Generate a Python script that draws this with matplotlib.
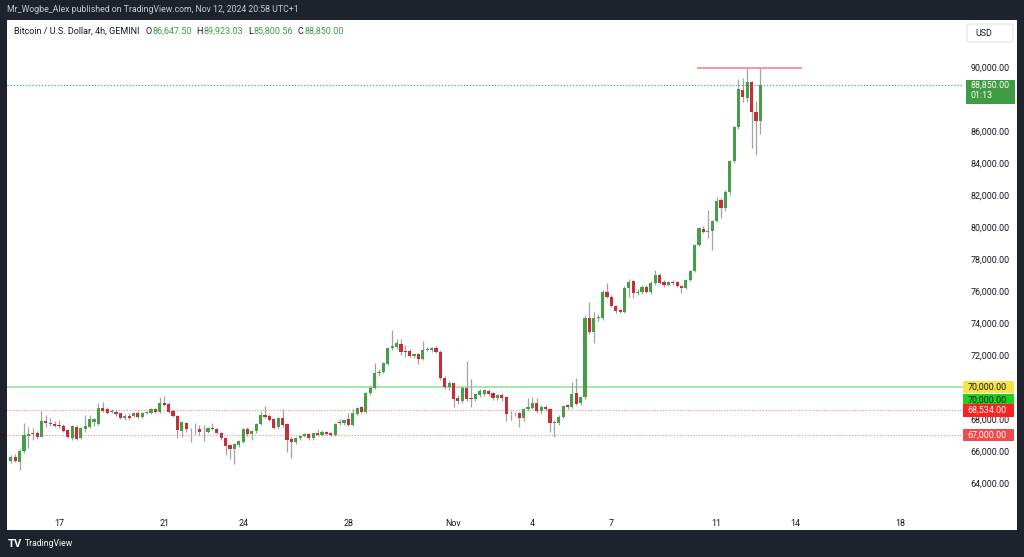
import numpy as np
import pandas as pd
import matplotlib
matplotlib.use("Agg")
import matplotlib.pyplot as plt
import matplotlib.dates as mdates
from matplotlib.patches import Rectangle, FancyBboxPatch

# ---------------- data (BTC/USD 4h, GEMINI) ----------------
first_candle = "2024-10-15 04:00"
opens = [65370, 65640, 65330, 66000, 66950, 67100, 67100, 66900, 67900, 67780,
         67700, 67640, 67580, 67310, 66790, 67520, 66790, 67360, 67520, 67800,
         67670, 68670, 68600, 68420, 68450, 68350, 68080, 68210, 68190, 68390,
         68140, 68390, 68360, 68620, 68450, 69020, 68920, 68500, 68210, 67270,
         67730, 67360, 67360, 67380, 67250, 67210, 67460, 67380, 67110, 66790,
         66380, 66110, 66380, 66580, 67360, 67040, 67250, 67670, 68250, 68190,
         67980, 67480, 68080, 67670, 66750, 66580, 66790, 66950, 67060, 66790,
         67110, 67000, 67190, 67120, 67000, 67790, 67730, 67980, 67630, 68310,
         68730, 68420, 69600, 69920, 70860, 70960, 71420, 72420, 72520, 72690,
         72250, 72250, 71940, 72040, 71750, 72310, 72310, 72420, 72210, 70540,
         69980, 70230, 69290, 69120, 69960, 69330, 69250, 69500, 69540, 69770,
         69600, 69330, 69500, 69360, 68350, 68350, 68350, 68040, 68620, 68710,
         69020, 68520, 68770, 68610, 67770, 67770, 68140, 68880, 68770, 69600,
         68980, 69360, 74330, 73420, 74290, 74290, 75960, 75650, 75080, 74810,
         74710, 76170, 76620, 75900, 75920, 76230, 75960, 76480, 77000, 76540,
         76370, 76540, 76540, 76310, 76210, 76690, 77250, 78860, 79860, 79710,
         79750, 80380, 81690, 81170, 82210, 84130, 86230, 88560, 88040, 89040,
         87210, 86647.5]
highs = [65750, 65800, 66100, 67750, 67520, 67450, 67250, 68520, 68270, 68050,
         67900, 67950, 67700, 67400, 67650, 67600, 67500, 68250, 68250, 68050,
         68980, 69080, 68750, 68600, 68550, 68400, 68300, 68350, 68450, 68500,
         68450, 68500, 68700, 68700, 69400, 69430, 69050, 68600, 68250, 67850,
         67800, 67450, 67780, 67620, 67650, 67500, 67780, 67450, 67200, 66850,
         66450, 66500, 66700, 67450, 67500, 67300, 67750, 68520, 68810, 68300,
         68050, 68150, 68600, 67750, 66900, 66900, 67000, 67100, 67100, 67150,
         67400, 67300, 67250, 67200, 67750, 68000, 68000, 68350, 68600, 68750,
         68800, 69700, 70050, 71480, 71100, 71550, 72500, 73560, 73000, 73000,
         72600, 72350, 72150, 72150, 72900, 72500, 72500, 72550, 72300, 70700,
         70350, 70300, 69500, 70050, 71620, 70480, 69650, 69850, 69900, 69850,
         69700, 69550, 69600, 69450, 68500, 68450, 68450, 68700, 69300, 69350,
         69300, 68850, 68850, 68700, 67950, 68250, 68900, 68950, 70290, 70540,
         69450, 74500, 75330, 74710, 74550, 76050, 76480, 75750, 75150, 74900,
         76300, 76730, 76700, 76100, 76350, 76400, 76600, 77310, 77150, 76700,
         76650, 76700, 76650, 76400, 76750, 77300, 78950, 80000, 80050, 81060,
         80450, 81900, 81800, 82300, 84200, 86300, 89250, 89330, 89920, 89150,
         87880, 89923.03]
lows = [65230, 65300, 64810, 65900, 66190, 66700, 66750, 66850, 67480, 67550,
        67500, 67450, 67200, 66800, 66700, 66700, 66720, 67200, 67450, 67550,
        67600, 68450, 68300, 68350, 68200, 68000, 67950, 67950, 68100, 68050,
        68080, 68300, 68300, 68380, 68400, 68800, 68350, 68100, 66830, 66890,
        67200, 66580, 67050, 66990, 66650, 67100, 67300, 67050, 66700, 65750,
        65480, 65190, 66250, 66500, 66950, 66700, 67150, 67600, 68050, 67900,
        67350, 67400, 67500, 65960, 65580, 66450, 66700, 66850, 66700, 66700,
        66950, 66950, 67000, 66950, 66950, 67650, 67650, 67550, 67550, 68250,
        68350, 68350, 69500, 69850, 70700, 70850, 71350, 72300, 72400, 72000,
        71900, 71850, 71800, 71420, 71700, 72250, 72200, 72100, 70450, 69900,
        69800, 68770, 68950, 69000, 69150, 68770, 69100, 69400, 69450, 69450,
        69200, 69200, 69100, 67900, 67940, 68200, 67520, 67900, 68500, 68650,
        68400, 68300, 68500, 67210, 66900, 67650, 68050, 68650, 68700, 68850,
        68900, 69250, 73300, 72730, 74150, 74200, 75550, 75000, 74650, 74600,
        74650, 75650, 75540, 75750, 75800, 75850, 75800, 76400, 76450, 76250,
        76300, 76400, 76250, 75900, 76150, 76600, 77200, 78800, 79600, 79290,
        78560, 80300, 80540, 81000, 82000, 84000, 86100, 87830, 87800, 84920,
        84500, 85800.56]
closes = [65640, 65370, 66000, 67000, 67050, 67060, 66900, 67900, 67770, 67690,
          67590, 67540, 67270, 66860, 67560, 66770, 67420, 67560, 67980, 68000,
          68700, 68520, 68390, 68520, 68290, 68080, 68210, 68080, 68390, 68140,
          68390, 68430, 68600, 68450, 69020, 68880, 68450, 68190, 67310, 67790,
          67360, 67380, 67400, 67210, 67230, 67460, 67380, 67110, 66790, 66330,
          66110, 66420, 66640, 67360, 67040, 67250, 67670, 68250, 68140, 67940,
          67460, 68040, 67620, 66690, 66580, 66790, 66950, 67060, 66790, 67110,
          67000, 67210, 67080, 67000, 67690, 67730, 67940, 67630, 68360, 68670,
          68420, 69600, 69960, 70890, 70960, 71480, 72420, 72560, 72730, 72210,
          72170, 71960, 72060, 71750, 72310, 72350, 72420, 72210, 70580, 70020,
          70230, 69230, 69120, 69960, 69250, 69230, 69540, 69750, 69790, 69560,
          69330, 69500, 69290, 68310, 68370, 68380, 68080, 68610, 68730, 68980,
          68520, 68770, 68610, 67770, 67830, 68140, 68810, 68770, 69540, 68940,
          69360, 74330, 73420, 74290, 74400, 75960, 75650, 75080, 74770, 74710,
          76170, 76580, 75900, 75960, 76230, 75960, 76520, 77000, 76520, 76350,
          76540, 76480, 76310, 76210, 76690, 77250, 78860, 79920, 79710, 79770,
          80380, 81630, 81170, 82210, 84130, 86230, 88620, 88100, 89040, 87210,
          86650, 88850.0]

tick_dates = ["2024-10-17", "2024-10-21", "2024-10-24", "2024-10-28", "2024-11-01",
              "2024-11-04", "2024-11-07", "2024-11-11", "2024-11-14", "2024-11-18"]
tick_labels = ["17", "21", "24", "28", "Nov", "4", "7", "11", "14", "18"]
price_ticks = list(range(64000, 90001, 2000))
hidden_price_ticks = [70000, 88000]   # covered by the price labels in the original

last_price = 88850.00
countdown = "01:13"
level_70k = 70000.00
level_a = 68534.00
level_b = 67000.00
top_line_price = 89923.03
top_line_span = ["2024-11-10 06:00", "2024-11-14 06:00"]

title_text = "Mr_Wogbe_Alex published on TradingView.com, Nov 12, 2024 20:58 UTC+1"
symbol_text = "Bitcoin / U.S. Dollar, 4h, GEMINI"
ohlc_labels = [("O", "86,647.50"), ("H", "89,923.03"), ("L", "85,800.56"), ("C", "88,850.00")]

# ---------------- style ----------------
plt.rcParams["font.family"] = ["Roboto", "DejaVu Sans"]
DARK = "#1e222d"
TXT = "#131722"
GREEN = "#43a047"
RED = "#c62f3a"
WICK = "#a3a3a3"

W, H = 1024, 557
fig = plt.figure(figsize=(W / 100, H / 100), dpi=100, facecolor=DARK)
rend = fig.canvas.get_renderer()

def fx(px):
    return px / W

def fy(py):
    return 1 - py / H

def fit_size(text, target_px, base=8.0, **kw):
    tt = fig.text(0, 0, text, fontsize=base, **kw)
    w = tt.get_window_extent(renderer=rend).width
    tt.remove()
    return base * target_px / w

LBL = fit_size("90,000.00", 39)

# white panel (behind the axes)
fig.patches.append(Rectangle((fx(7), fy(530)), fx(1010), 510 / H,
                             transform=fig.transFigure, facecolor="white",
                             edgecolor="none", zorder=-5))

ax = fig.add_axes([fx(7), fy(510), fx(956), (510 - 45) / H])
ax.set_facecolor("none")
for s in ax.spines.values():
    s.set_visible(False)

times = pd.date_range(first_candle, periods=len(opens), freq="4h")
t = mdates.date2num(times.to_pydatetime())
o = np.array(opens); h = np.array(highs); l = np.array(lows); c = np.array(closes)
up = c >= o
colors = np.where(up, GREEN, RED)

ax.vlines(t, l, h, color=WICK, lw=0.9, zorder=2)
body = np.maximum(np.abs(c - o), 45)
ax.bar(t, body, bottom=np.minimum(o, c), width=0.12, color=colors,
       edgecolor="none", zorder=3)

# horizontal levels
ax.axhline(level_70k, color="#8fdf8f", lw=1.1, zorder=1)
ax.axhline(level_a, color="#f08a8a", lw=0.8, ls=(0, (1, 1.5)), zorder=1)
ax.axhline(level_b, color="#f08a8a", lw=0.8, ls=(0, (1, 1.5)), zorder=1)
ax.axhline(last_price, color="#38b2a4", lw=0.9, ls=(0, (1, 1.5)), zorder=1)
ax.hlines(top_line_price, *mdates.date2num(pd.to_datetime(top_line_span).to_pydatetime()),
          color="#f07c7c", lw=1.1, zorder=1)

# axes scales
x0 = mdates.date2num(pd.Timestamp("2024-10-15 00:33").to_pydatetime())
x1 = mdates.date2num(pd.Timestamp("2024-11-20 08:53").to_pydatetime())
ax.set_xlim(x0, x1)
ax.set_ylim(62312.5, 91375)

ax.set_xticks(mdates.date2num(pd.to_datetime(tick_dates).to_pydatetime()))
ax.set_xticklabels(tick_labels)
ax.yaxis.tick_right()
ax.set_yticks(price_ticks)
ax.set_yticklabels(["" if p in hidden_price_ticks else f"{p:,.2f}" for p in price_ticks])
ax.tick_params(axis="both", length=0, labelsize=LBL, colors=TXT)
ax.tick_params(axis="y", pad=5.5)
ax.tick_params(axis="x", pad=6.5)

tr = matplotlib.transforms.blended_transform_factory(ax.transAxes, ax.transData)

# right-side price labels
def price_box(price, text, face, tcolor, ytext=None, height=780):
    yc = price if ytext is None else ytext
    ax.add_patch(Rectangle((1.0005, yc - height / 2), 51 / 956, height, transform=tr,
                           facecolor=face, edgecolor="none", clip_on=False, zorder=6))
    ax.text(1.0045, yc, text, transform=tr, color=tcolor, fontsize=LBL,
            va="center", ha="left", clip_on=False, zorder=7)

price_box(level_70k, f"{level_70k:,.2f}", "#f7e344", TXT)
price_box(level_70k, f"{level_70k:,.2f}", "#20d020", TXT, ytext=level_70k - 820)
price_box(level_a, f"{level_a:,.2f}", "#ff2020", "white")
price_box(level_b, f"{level_b:,.2f}", "#f24a4a", "white")

# last price label (two lines)
ax.add_patch(Rectangle((1.0035, last_price - 1190), 49 / 956, 1520, transform=tr,
                       facecolor="#3e9a43", edgecolor="none", clip_on=False, zorder=6))
ax.text(1.0075, last_price + 20, f"{last_price:,.2f}", transform=tr, color="white",
        fontsize=LBL, va="center", ha="left", clip_on=False, zorder=7)
ax.text(1.0075, last_price - 660, countdown, transform=tr, color="white",
        fontsize=LBL, va="center", ha="left", clip_on=False, zorder=7)

# USD box
fig.patches.append(FancyBboxPatch((fx(967), fy(42)), fx(46), 18 / H,
                                  boxstyle="round,pad=0,rounding_size=0.004",
                                  transform=fig.transFigure, facecolor="white",
                                  edgecolor="#e0e3eb", lw=0.8, zorder=2))
fig.text(fx(975), fy(33), "USD", color=TXT, fontsize=LBL, va="center", ha="left")

# title bar
fig.text(fx(7), fy(10), title_text, color="#c9ccd4",
         fontsize=fit_size(title_text, 291), va="center", ha="left")

# symbol header with coloured OHLC values
HDR = fit_size(symbol_text, 126)
xpos = fx(14)
yhead = fy(31)

def put(s, col, gap=0.0):
    global xpos
    tt = fig.text(xpos, yhead, s, color=col, fontsize=HDR, va="center", ha="left")
    bb = tt.get_window_extent(renderer=rend)
    xpos += bb.width / W + gap

put(symbol_text, TXT, gap=fx(6))
for k, v in ohlc_labels:
    put(k, TXT, gap=fx(0.5))
    put(v, "#3f9d45", gap=fx(5))

# footer logo
fig.text(fx(8), fy(544), "TV", color="white", fontsize=8, weight="bold",
         va="center", ha="left")
fig.text(fx(25), fy(544), "TradingView", color="white",
         fontsize=fit_size("TradingView", 48), va="center", ha="left")

fig.savefig("out.png", dpi=100, facecolor=DARK)
